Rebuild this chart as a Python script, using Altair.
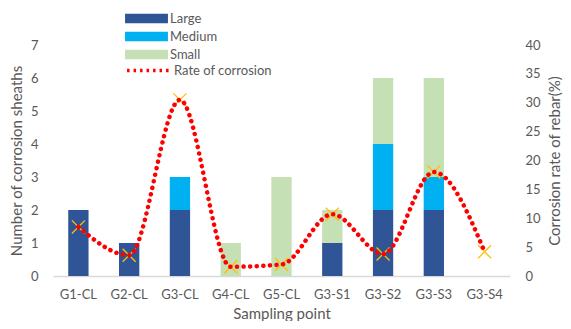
import altair as alt
import pandas as pd

points = ["G1-CL", "G2-CL", "G3-CL", "G4-CL", "G5-CL", "G3-S1", "G3-S2", "G3-S3", "G3-S4"]
large = [2, 1, 2, 0, 0, 1, 2, 2, 0]
medium = [0, 0, 1, 0, 0, 0, 2, 1, 0]
small = [0, 0, 0, 1, 3, 1, 2, 3, 0]
rate = [8.5, 3.6, 30.5, 1.6, 2.0, 10.7, 3.8, 18.0, 4.2]
sizes = ["Large", "Medium", "Small"]
colors = ["#2F5597", "#00B0F0", "#C5E0B4"]
left_ticks = [0, 1, 2, 3, 4, 5, 6, 7]
right_ticks = [0, 5, 10, 15, 20, 25, 30, 35, 40]

rows = []
for i, p in enumerate(points):
    for k, (name, vals) in enumerate(zip(sizes, [large, medium, small])):
        rows.append({"point": p, "size": name, "count": vals[i], "order": k})
bars_df = pd.DataFrame(rows)
rate_df = pd.DataFrame({"point": points, "rate": rate, "series": "Rate of corrosion"})

FONT = "Lato"
GRAY = "#595959"

x = alt.X(
    "point:N", sort=points, title="Sampling point",
    scale=alt.Scale(paddingInner=0.6, paddingOuter=0.3),
    axis=alt.Axis(labelAngle=0, ticks=False, domainColor="#D9D9D9", domainWidth=1.5,
                  labelPadding=12, titlePadding=5, labelFontSize=13, titleFontSize=15,
                  labelColor=GRAY, titleColor=GRAY, labelFont=FONT, titleFont=FONT,
                  titleFontWeight="normal"),
)

bars = alt.Chart(bars_df).mark_bar().encode(
    x=x,
    y=alt.Y("count:Q", stack="zero", scale=alt.Scale(domain=[0, 7]),
            axis=alt.Axis(values=left_ticks, title="Number of corrosion sheaths", grid=False,
                          domain=False, ticks=False, labelPadding=15, titlePadding=6,
                          labelFontSize=13, titleFontSize=15, labelColor=GRAY, titleColor=GRAY,
                          labelFont=FONT, titleFont=FONT, titleFontWeight="normal")),
    fill=alt.Fill("size:N", scale=alt.Scale(domain=sizes, range=colors),
                  legend=alt.Legend(orient="none", legendX=87, legendY=-33, title=None,
                                    symbolType="M-3.3,-0.73H3.3V0.73H-3.3Z", symbolSize=169,
                                    symbolStrokeWidth=0, symbolOpacity=1, labelOffset=17,
                                    labelFontSize=13, labelColor=GRAY, labelFont=FONT,
                                    rowPadding=4)),
    order=alt.Order("order:Q", sort="ascending"),
)

y_rate = alt.Y("rate:Q", scale=alt.Scale(domain=[0, 40]),
               axis=alt.Axis(orient="right", values=right_ticks, title="Corrosion rate of rebar(%)",
                             titleAngle=270, grid=False, domain=False, ticks=False,
                             labelPadding=15, titlePadding=22, labelFontSize=13, titleFontSize=15,
                             labelColor=GRAY, titleColor=GRAY, labelFont=FONT, titleFont=FONT,
                             titleFontWeight="normal"))

markers = alt.Chart(rate_df).mark_point(
    shape="M-1,-1L1,1M-1,1L1,-1", size=170, filled=False, color="#FFC000", strokeWidth=1.3, opacity=1
).encode(x=x, y=y_rate)

line = alt.Chart(rate_df).mark_line(
    interpolate="monotone", strokeDash=[0.1, 6.5], strokeCap="round", strokeWidth=4.5
).encode(
    x=x, y=y_rate,
    stroke=alt.Stroke("series:N", scale=alt.Scale(domain=["Rate of corrosion"], range=["#FF0000"]),
                      legend=alt.Legend(orient="none", legendX=87, legendY=17, title=None,
                                        symbolType="M-3.3,0H3.3", symbolSize=169,
                                        symbolStrokeWidth=3.5, symbolDash=[2.5, 4],
                                        symbolFillColor="transparent", labelOffset=17,
                                        labelFontSize=13, labelColor=GRAY, labelFont=FONT)),
)

chart = alt.layer(bars, alt.layer(markers, line)).resolve_scale(y="independent").properties(
    width=457, height=231,
    autosize=alt.AutoSizeParams(type="none"),
    padding={"left": 45, "top": 37, "right": 53, "bottom": 45},
).configure_view(stroke=None)

chart.save("out.html", embed_options={"renderer": "svg", "actions": False})
